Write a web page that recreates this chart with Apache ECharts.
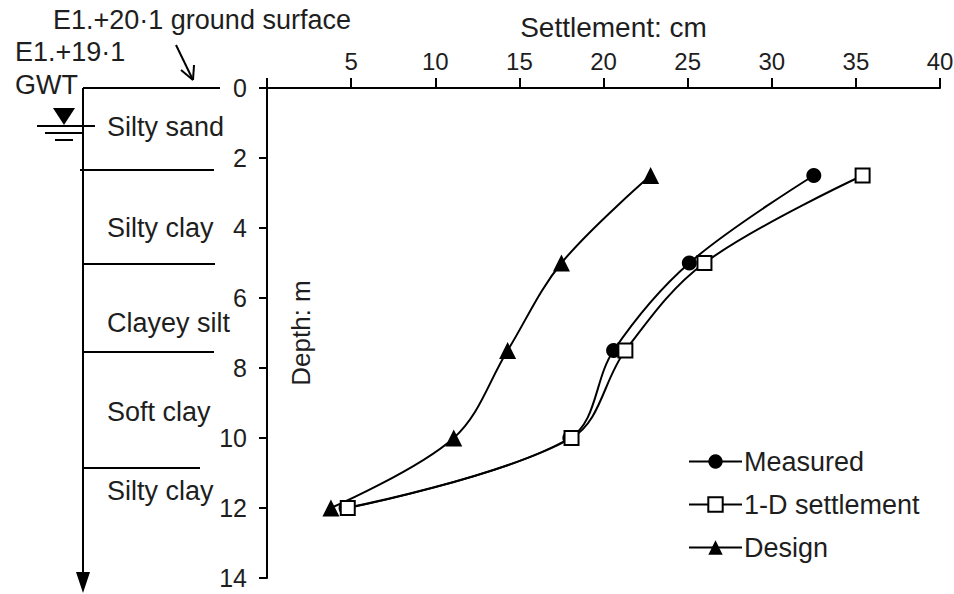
<!DOCTYPE html>
<html>
<head>
<meta charset="utf-8">
<script src="https://cdn.jsdelivr.net/npm/echarts@6/dist/echarts.min.js"></script>
<style>
  html, body { margin: 0; padding: 0; background: #fff; }
  #chart { width: 954px; height: 594px; }
</style>
</head>
<body>
<div id="chart"></div>
<script>
// depths of the observation points (m)
const depths = [2.5, 5, 7.5, 10, 12];
// settlement values (cm)
const measured = [32.5, 25.1, 20.6, 18.0, 4.7];
const oneD = [35.4, 26.0, 21.3, 18.1, 4.8];
const design = [22.8, 17.5, 14.3, 11.1, 3.8];

// soil profile on the left
const layerNames = ['Silty sand', 'Silty clay', 'Clayey silt', 'Soft clay', 'Silty clay'];
const layerLabelDepths = [1.1, 4.0, 6.7, 9.25, 11.5];
const layerBottoms = [2.34, 5.03, 7.54, 10.86];
const layerLineEnds = [214, 215, 214, 200];

const FONT = 'Liberation Sans, Arial, sans-serif';
const INK = '#1e1e1e';

function pairs(xs) {
  return xs.map((v, i) => [v, depths[i]]);
}

var chart = echarts.init(document.getElementById('chart'), null, { renderer: 'svg' });

var option = {
  backgroundColor: '#fff',
  animation: false,
  grid: { left: 267, top: 88, right: 14, bottom: 16, outerBoundsMode: 'none', containLabel: false },
  xAxis: {
    type: 'value',
    position: 'top',
    min: 0, max: 40, interval: 5,
    name: 'Settlement: cm',
    nameLocation: 'middle',
    nameGap: 47,
    nameMoveOverlap: false,
    nameTextStyle: { fontFamily: FONT, fontSize: 28, color: INK, padding: [0, 0, 0, 20] },
    axisLine: { lineStyle: { color: '#000', width: 2 } },
    axisTick: { length: 10, lineStyle: { color: '#000', width: 2 } },
    axisLabel: {
      fontFamily: FONT, fontSize: 24, color: INK, margin: 15,
      formatter: v => (v === 0 ? '' : String(v))
    },
    splitLine: { show: false }
  },
  yAxis: {
    type: 'value',
    inverse: true,
    min: 0, max: 14, interval: 2,
    name: 'Depth: m',
    nameLocation: 'middle',
    nameRotate: 90,
    nameGap: -47,
    nameMoveOverlap: false,
    nameTextStyle: { fontFamily: FONT, fontSize: 26, color: INK },
    axisLine: { lineStyle: { color: '#000', width: 2 } },
    axisTick: { length: 8, lineStyle: { color: '#000', width: 2 } },
    axisLabel: { fontFamily: FONT, fontSize: 25, color: INK, margin: 20 },
    splitLine: { show: false }
  },
  legend: {
    orient: 'vertical',
    left: 683,
    top: 443,
    itemWidth: 53,
    itemHeight: 18,
    itemGap: 16,
    textStyle: { fontFamily: FONT, fontSize: 27, color: INK, padding: [0, 0, 0, -3] },
    data: ['Measured', '1-D settlement', 'Design']
  },
  series: [
    {
      name: 'Measured',
      type: 'line',
      smooth: 0.35,
      data: pairs(measured),
      symbol: 'circle',
      symbolSize: 15,
      lineStyle: { color: '#000', width: 2 },
      itemStyle: { color: '#000' }
    },
    {
      name: '1-D settlement',
      type: 'line',
      smooth: 0.35,
      data: pairs(oneD),
      symbol: 'rect',
      symbolSize: 14,
      lineStyle: { color: '#000', width: 2 },
      itemStyle: { color: '#fff', borderColor: '#000', borderWidth: 2 }
    },
    {
      name: 'Design',
      type: 'line',
      smooth: 0.35,
      data: pairs(design),
      symbol: 'triangle',
      symbolSize: 17,
      lineStyle: { color: '#000', width: 2 },
      itemStyle: { color: '#000' }
    }
  ]
};

chart.setOption(option);

// soil profile drawn beside the depth axis
const px = 83;
const yOf = d => chart.convertToPixel({ yAxisIndex: 0 }, d);
const y0 = yOf(0);
const textStyle = (t, x, y, size) => ({
  type: 'text', x: x, y: y,
  style: { text: t, fontFamily: FONT, fontSize: size || 27, fill: INK, verticalAlign: 'middle' }
});
const lineShape = (x1, y1, x2, y2) => ({
  type: 'line', shape: { x1: x1, y1: y1, x2: x2, y2: y2 },
  style: { stroke: '#000', lineWidth: 2 }
});

var g = [];
// ground surface and vertical profile line
g.push(lineShape(px, y0, 220, y0));
g.push(lineShape(px, y0, px, 576));
g.push({ type: 'polygon', shape: { points: [[76, 572], [90, 572], [83, 593]] }, style: { fill: '#000' } });
// layer boundaries
layerBottoms.forEach((d, i) => {
  g.push(lineShape(i === 0 ? 80 : px, yOf(d), layerLineEnds[i], yOf(d)));
});
// layer names
layerNames.forEach((n, i) => {
  g.push(textStyle(n, 107, yOf(layerLabelDepths[i])));
});
// elevation notes
g.push(textStyle('E1.+20·1 ground surface', 53, 20));
g.push(textStyle('E1.+19·1', 15, 52));
g.push(textStyle('GWT', 15, 85));
// pointer arrow to ground surface
g.push(lineShape(176, 45, 193, 80));
g.push(lineShape(193, 80, 181, 70));
g.push(lineShape(193, 80, 194, 65));
// water table symbol
g.push({ type: 'polygon', shape: { points: [[53, 108], [75, 108], [64, 125]] }, style: { fill: '#000' } });
g.push(lineShape(37, 126, 95, 126));
g.push(lineShape(45, 133, 83, 133));
g.push(lineShape(55, 140, 73, 140));

chart.setOption({ graphic: g });
</script>
</body>
</html>
